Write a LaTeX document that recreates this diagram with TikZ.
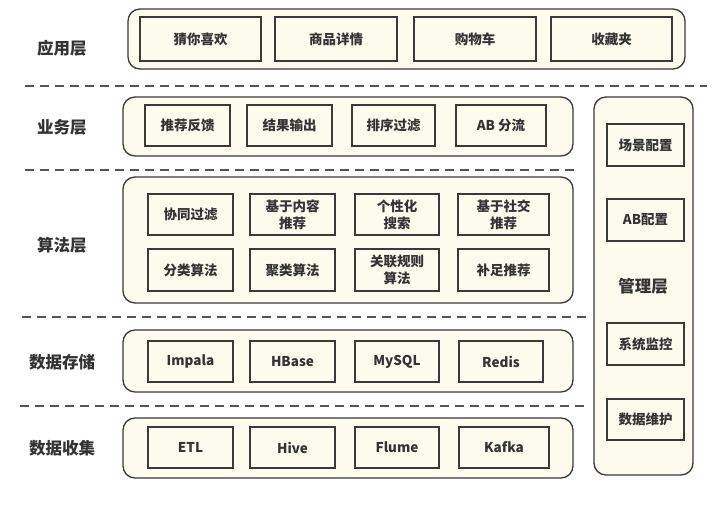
\documentclass[tikz,border=0pt]{standalone}
\usepackage{fontspec}
\setmainfont{Noto Sans CJK SC}
\definecolor{cream}{HTML}{FCFBEE}
\definecolor{edge}{HTML}{3A3A3A}
\definecolor{txt}{HTML}{333333}
\definecolor{dashc}{HTML}{555555}
\tikzset{
  layerbox/.style={draw=edge, fill=cream, line width=1.3pt, rounded corners=12pt},
  itembox/.style={draw=edge, fill=cream, line width=1.2pt, inner sep=0pt, align=center,
    font=\fontsize{13.5}{17}\selectfont\bfseries, text=txt},
  layerlabel/.style={font=\fontsize{16.5}{19}\selectfont\bfseries, text=txt, inner sep=0pt},
  sep/.style={draw=dashc, line width=1.3pt, dash pattern=on 9pt off 6pt}
}
\newcommand{\bx}[6]{\node[itembox, minimum width={(#4-#2)*1pt}, minimum height={(#5-#3)*1pt}] (#1) at ({(#2+#4)/2},{(#3+#5)/2}) {#6};}
\newcommand{\lay}[5]{\node[layerbox, minimum width={(#4-#2)*1pt}, minimum height={(#5-#3)*1pt}, inner sep=0pt] (#1) at ({(#2+#4)/2},{(#3+#5)/2}) {};}
\begin{document}
\begin{tikzpicture}[x=1pt,y=-1pt]
\useasboundingbox[fill=white] (0,0) rectangle (721,505);
% separators
\coordinate (s1a) at (25,86);  \coordinate (s1b) at (707,86);
\coordinate (s2a) at (25,170); \coordinate (s2b) at (578,170);
\coordinate (s3a) at (22,317); \coordinate (s3b) at (587,317);
\coordinate (s4a) at (20,406); \coordinate (s4b) at (585,406);
\draw[sep] (s1a) -- (s1b);
\draw[sep] (s2a) -- (s2b);
\draw[sep] (s3a) -- (s3b);
\draw[sep] (s4a) -- (s4b);
% layer containers
\lay{app}{128}{9}{685}{69}
\lay{biz}{123}{97}{573}{156}
\lay{alg}{123}{177}{573}{303}
\lay{sto}{123}{330}{573}{392}
\lay{col}{123}{418}{573}{478}
\lay{mgr}{594}{97}{693}{475}
% labels
\node[layerlabel] (lapp) at (62,48) {应用层};
\node[layerlabel] (lbiz) at (62,127) {业务层};
\node[layerlabel] (lalg) at (62,245) {算法层};
\node[layerlabel] (lsto) at (62,362) {数据存储};
\node[layerlabel] (lcol) at (62,448) {数据收集};
\node[layerlabel] (lmgr) at (643,286) {管理层};
% application
\bx{a1}{140}{17}{261}{61}{猜你喜欢}
\bx{a2}{275}{17}{397}{61}{商品详情}
\bx{a3}{414}{17}{536}{61}{购物车}
\bx{a4}{551}{17}{672}{61}{收藏夹}
% business
\bx{b1}{145}{105}{230}{146}{推荐反馈}
\bx{b2}{247}{105}{332}{146}{结果输出}
\bx{b3}{352}{105}{435}{146}{排序过滤}
\bx{b4}{456}{105}{546}{146}{AB 分流}
% algorithm
\bx{g1}{148}{194}{233}{235}{协同过滤}
\bx{g2}{250}{194}{335}{235}{基于内容\\推荐}
\bx{g3}{355}{194}{439}{235}{个性化\\搜索}
\bx{g4}{458}{194}{549}{235}{基于社交\\推荐}
\bx{g5}{148}{249}{233}{291}{分类算法}
\bx{g6}{250}{249}{335}{291}{聚类算法}
\bx{g7}{355}{249}{439}{291}{关联规则\\算法}
\bx{g8}{458}{249}{549}{291}{补足推荐}
% storage
\bx{d1}{148}{341}{233}{382}{Impala}
\bx{d2}{250}{341}{335}{382}{HBase}
\bx{d3}{355}{341}{439}{382}{MySQL}
\bx{d4}{459}{341}{543}{382}{Redis}
% collection
\bx{c1}{148}{427}{233}{468}{ETL}
\bx{c2}{250}{427}{335}{468}{Hive}
\bx{c3}{355}{427}{439}{468}{Flume}
\bx{c4}{459}{427}{549}{468}{Kafka}
% management
\bx{m1}{607}{124}{684}{166}{场景配置}
\bx{m2}{607}{199}{684}{241}{AB配置}
\bx{m3}{607}{323}{684}{365}{系统监控}
\bx{m4}{607}{399}{684}{440}{数据维护}
\end{tikzpicture}
\end{document}
